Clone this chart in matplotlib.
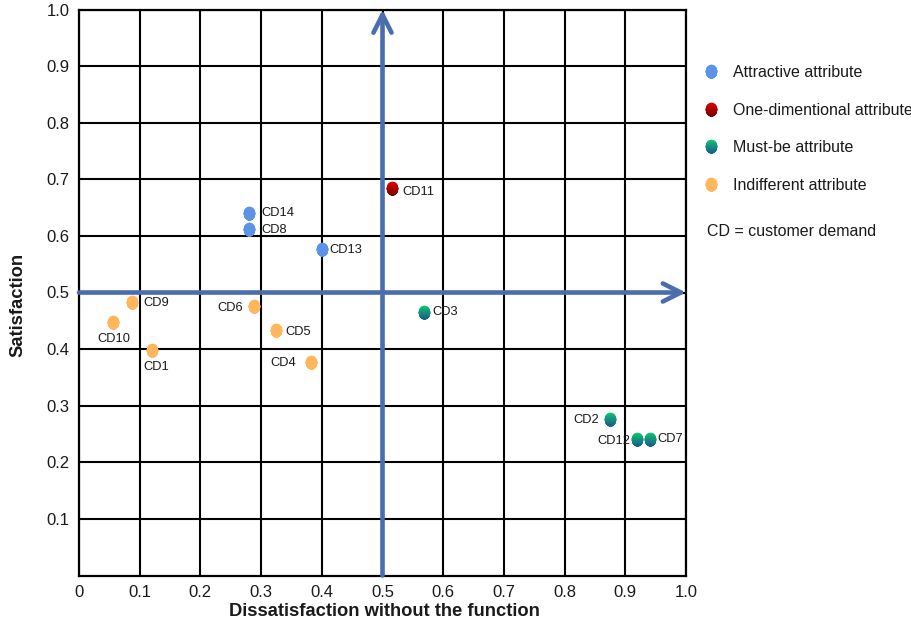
import numpy as np
import matplotlib.pyplot as plt
from matplotlib.path import Path
from matplotlib.lines import Line2D
from matplotlib.colors import to_rgb

plt.rcParams['font.family'] = ['Liberation Sans', 'DejaVu Sans']

# --- data ---
names = ['CD1', 'CD2', 'CD3', 'CD4', 'CD5', 'CD6', 'CD7',
         'CD8', 'CD9', 'CD10', 'CD11', 'CD12', 'CD13', 'CD14']
dissatisfaction = [0.121, 0.874, 0.568, 0.382, 0.324, 0.288, 0.941,
                   0.280, 0.088, 0.056, 0.516, 0.920, 0.401, 0.280]
satisfaction = [0.398, 0.277, 0.465, 0.377, 0.433, 0.477, 0.241,
                0.612, 0.483, 0.447, 0.685, 0.241, 0.576, 0.640]
category = ['Indifferent attribute', 'Must-be attribute', 'Must-be attribute',
            'Indifferent attribute', 'Indifferent attribute', 'Indifferent attribute',
            'Must-be attribute', 'Attractive attribute', 'Indifferent attribute',
            'Indifferent attribute', 'One-dimentional attribute', 'Must-be attribute',
            'Attractive attribute', 'Attractive attribute']
categories = ['Attractive attribute', 'One-dimentional attribute',
              'Must-be attribute', 'Indifferent attribute']
x_ticks = np.round(np.arange(0, 1.01, 0.1), 1)
x_tick_labels = ['0', '0.1', '0.2', '0.3', '0.4', '0.5', '0.6', '0.7', '0.8', '0.9', '1.0']
y_ticks = np.round(np.arange(0.1, 1.01, 0.1), 1)
y_tick_labels = ['0.1', '0.2', '0.3', '0.4', '0.5', '0.6', '0.7', '0.8', '0.9', '1.0']

# --- style ---
# (top colour, bottom colour) -> vertical gradient on the markers
colors = {
    'Attractive attribute': ('#5C93E6', '#5C93E6'),
    'One-dimentional attribute': ('#E20000', '#760000'),
    'Must-be attribute': ('#0DC46E', '#1C5A8E'),
    'Indifferent attribute': ('#FFB65C', '#FFB65C'),
}
# label offsets in pixels (dx, dy down), alignment
label_pos = {
    'CD1': (4, 17, 'center'), 'CD2': (-10, 1, 'right'), 'CD3': (9, 0, 'left'),
    'CD4': (-15, 1, 'right'), 'CD5': (10, 2, 'left'), 'CD6': (-11, 2, 'right'),
    'CD7': (7, 0, 'left'), 'CD8': (12, 1, 'left'), 'CD9': (11, 1, 'left'),
    'CD10': (1, 17, 'center'), 'CD11': (10, 4, 'left'), 'CD12': (-7, 2, 'right'),
    'CD13': (7, 1, 'left'), 'CD14': (12, 0, 'left'),
}
arrow_color = '#4A6EAD'
text_color = '#1A1A1A'
n_layers = 12
marker_s = 100


def ellipse_layers(n, aspect=1.22):
    # each layer is the part of the ellipse below a cut line, drawn top to bottom
    a = 1 / aspect
    paths = []
    for y0 in np.linspace(1, -0.85, n):
        ys = np.linspace(min(y0, 1), -1, 30)
        xs = a * np.sqrt(np.clip(1 - ys ** 2, 0, None))
        verts = np.vstack([np.column_stack([-xs, ys]),
                           np.column_stack([xs[::-1], ys[::-1]])])
        verts = np.vstack([verts, verts[:1]])
        codes = [Path.MOVETO] + [Path.LINETO] * (len(verts) - 2) + [Path.CLOSEPOLY]
        paths.append(Path(verts, codes))
    return paths


def blend(c1, c2, t):
    c1, c2 = np.array(to_rgb(c1)), np.array(to_rgb(c2))
    return tuple(c1 * (1 - t) + c2 * t)


layers = ellipse_layers(n_layers)

fig = plt.figure(figsize=(9.12, 6.25), dpi=100)
ax = fig.add_axes([79 / 912, 49.5 / 625, 607 / 912, 566 / 625])

ax.set_xlim(0, 1)
ax.set_ylim(0, 1)
ax.set_xticks(x_ticks)
ax.set_xticklabels(x_tick_labels)
ax.set_yticks(y_ticks)
ax.set_yticklabels(y_tick_labels)
ax.tick_params(length=0, pad=7, labelsize=12, colors=text_color)
ax.grid(color='black', lw=1.5, zorder=1)
ax.set_axisbelow(True)
for sp in ax.spines.values():
    sp.set_color('black')
    sp.set_linewidth(1.6)

# quadrant arrows
arrow_props = dict(arrowstyle='->,head_length=13,head_width=6.5', color=arrow_color,
                   lw=3.3, shrinkA=0, shrinkB=0, mutation_scale=1,
                   capstyle='round', joinstyle='round')
ax.annotate('', xy=(1.0, 0.5), xytext=(0, 0.5), arrowprops=arrow_props,
            annotation_clip=False, zorder=3)
ax.annotate('', xy=(0.5, 1.0), xytext=(0.5, 0), arrowprops=arrow_props,
            annotation_clip=False, zorder=3)

# points
handles = []
for cat in categories:
    idx = [i for i, c in enumerate(category) if c == cat]
    xs = [dissatisfaction[i] for i in idx]
    ys = [satisfaction[i] for i in idx]
    top, bottom = colors[cat]
    hs = []
    for k, path in enumerate(layers):
        col = blend(top, bottom, k / (n_layers - 1))
        ax.scatter(xs, ys, s=marker_s, marker=path, color=col, linewidths=0, zorder=5)
        hs.append(Line2D([], [], ls='', marker=path, markersize=np.sqrt(marker_s),
                         markerfacecolor=col, markeredgewidth=0))
    handles.append(tuple(hs))

for name, x, y in zip(names, dissatisfaction, satisfaction):
    dx, dy, ha = label_pos[name]
    ax.annotate(name, (x, y), xytext=(dx * 0.72, -dy * 0.72), textcoords='offset points',
                ha=ha, va='center', fontsize=9.3, color=text_color, zorder=6)

fig.legend(handles, categories, loc='upper left',
           bbox_to_anchor=(704 / 912, 1 - 65 / 625), frameon=False, fontsize=11.5,
           borderaxespad=0, borderpad=0, handlelength=0.85, handletextpad=0.95,
           labelspacing=1.41, labelcolor=text_color)
fig.text(707 / 912, 1 - 232 / 625, 'CD = customer demand', fontsize=11.5,
         va='center', ha='left', color=text_color)

fig.text(384 / 912, 1 - 612 / 625, 'Dissatisfaction without the function',
         fontsize=13.2, fontweight='bold', ha='center', va='center', color=text_color)
fig.text(18 / 912, 1 - 305 / 625, 'Satisfaction', fontsize=13.2, fontweight='bold',
         rotation=90, ha='center', va='center', color=text_color)

fig.savefig('out.png', dpi=100)
